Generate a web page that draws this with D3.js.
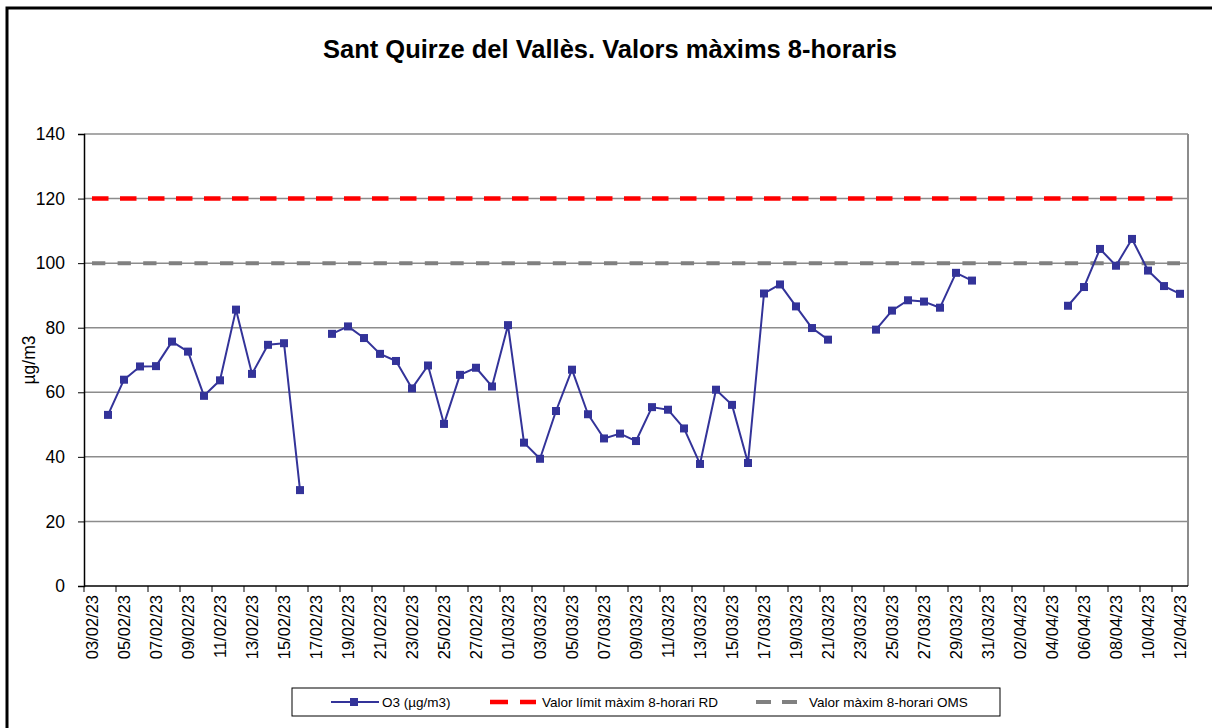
<!DOCTYPE html>
<html>
<head>
<meta charset="utf-8">
<script src="https://cdn.jsdelivr.net/npm/d3@7"></script>
<style>
  body { margin: 0; background: #fff; }
  svg { display: block; font-family: Arial, "Liberation Sans", sans-serif; }
</style>
</head>
<body>
<svg id="chart" width="1212" height="728"></svg>
<script>
var dates = [
  "03/02/23","04/02/23","05/02/23","06/02/23","07/02/23","08/02/23","09/02/23","10/02/23",
  "11/02/23","12/02/23","13/02/23","14/02/23","15/02/23","16/02/23","17/02/23","18/02/23",
  "19/02/23","20/02/23","21/02/23","22/02/23","23/02/23","24/02/23","25/02/23","26/02/23",
  "27/02/23","28/02/23","01/03/23","02/03/23","03/03/23","04/03/23","05/03/23","06/03/23",
  "07/03/23","08/03/23","09/03/23","10/03/23","11/03/23","12/03/23","13/03/23","14/03/23",
  "15/03/23","16/03/23","17/03/23","18/03/23","19/03/23","20/03/23","21/03/23","22/03/23",
  "23/03/23","24/03/23","25/03/23","26/03/23","27/03/23","28/03/23","29/03/23","30/03/23",
  "31/03/23","01/04/23","02/04/23","03/04/23","04/04/23","05/04/23","06/04/23","07/04/23",
  "08/04/23","09/04/23","10/04/23","11/04/23","12/04/23"
];

var o3 = [
  null, 53.0, 63.9, 68.0, 68.1, 75.7, 72.6, 58.9,
  63.7, 85.6, 65.7, 74.7, 75.2, 29.7, null, 78.1,
  80.4, 76.8, 71.9, 69.7, 61.2, 68.3, 50.2, 65.4,
  67.6, 61.8, 80.8, 44.4, 39.4, 54.2, 67.0, 53.2,
  45.7, 47.2, 44.9, 55.4, 54.6, 48.8, 37.8, 60.8,
  56.1, 38.1, 90.6, 93.4, 86.6, 79.9, 76.3, null,
  null, 79.4, 85.3, 88.5, 88.1, 86.2, 97.0, 94.6,
  null, null, null, null, null, 86.8, 92.6, 104.4,
  99.2, 107.5, 97.7, 92.9, 90.5
];

var limitRD = dates.map(function() { return 120; });
var limitOMS = dates.map(function() { return 100; });

var yTicks = [0, 20, 40, 60, 80, 100, 120, 140];

var seriesNames = ["O3 (\u00b5g/m3)", "Valor l\u00edmit m\u00e0xim 8-horari RD", "Valor m\u00e0xim 8-horari OMS"];

var svg = d3.select("#chart"),
  margin = {top: 134, right: 24, bottom: 142, left: 84},
  width = +svg.attr("width") - margin.left - margin.right,
  height = +svg.attr("height") - margin.top - margin.bottom;

// outer chart border
svg.append("rect")
  .attr("x", 7).attr("y", 8)
  .attr("width", 1220).attr("height", 740)
  .attr("fill", "none")
  .attr("stroke", "#000")
  .attr("stroke-width", 3);

svg.append("text")
  .attr("x", 610).attr("y", 58)
  .attr("text-anchor", "middle")
  .attr("font-size", "25.5px")
  .attr("font-weight", "bold")
  .text("Sant Quirze del Vall\u00e8s. Valors m\u00e0xims 8-horaris");

var g = svg.append("g").attr("transform", "translate(" + margin.left + "," + margin.top + ")");

var x = d3.scaleBand()
  .domain(dates)
  .range([0, width])
  .padding(0);

var y = d3.scaleLinear()
  .domain([0, 140])
  .range([height, 0]);

var cx = function(i) { return x(dates[i]) + x.bandwidth() / 2; };

// gridlines
g.append("g")
  .selectAll("line")
  .data(yTicks.filter(function(d) { return d > 0; }))
  .enter().append("line")
    .attr("x1", 0).attr("x2", width)
    .attr("y1", function(d) { return y(d); })
    .attr("y2", function(d) { return y(d); })
    .attr("stroke", "#8c8c8c")
    .attr("stroke-width", 1.5);

// plot frame right
g.append("line")
  .attr("x1", width).attr("x2", width)
  .attr("y1", 0).attr("y2", height)
  .attr("stroke", "#8c8c8c")
  .attr("stroke-width", 2);

// y axis
var yAxis = g.append("g")
  .call(d3.axisLeft(y).tickValues(yTicks).tickSize(6).tickPadding(13));
yAxis.select(".domain").attr("stroke", "#000").attr("stroke-width", 1.5);
yAxis.selectAll(".tick line").attr("stroke", "#000");
yAxis.selectAll(".tick text").attr("font-size", "17.5px").attr("fill", "#000")
  .attr("font-family", "Arial, 'Liberation Sans', sans-serif");

// x axis: ticks every two categories at boundaries, labels at centres
var xa = g.append("g").attr("transform", "translate(0," + height + ")");
xa.append("line")
  .attr("x1", 0).attr("x2", width)
  .attr("stroke", "#000").attr("stroke-width", 1.5);
xa.selectAll(".xt")
  .data(dates.filter(function(d, i) { return i % 2 === 0; }))
  .enter().append("line")
    .attr("class", "xt")
    .attr("x1", function(d) { return x(d); })
    .attr("x2", function(d) { return x(d); })
    .attr("y1", 0).attr("y2", 6)
    .attr("stroke", "#000");
xa.selectAll(".xl")
  .data(dates.filter(function(d, i) { return i % 2 === 0; }))
  .enter().append("text")
    .attr("class", "xl")
    .attr("transform", function(d) {
      return "translate(" + (x(d) + x.bandwidth() / 2 + 6) + ",9) rotate(-90)";
    })
    .attr("text-anchor", "end")
    .attr("font-size", "16.5px")
    .text(function(d) { return d; });

// y axis title
svg.append("text")
  .attr("transform", "translate(35,360) rotate(-90)")
  .attr("text-anchor", "middle")
  .attr("font-size", "17.5px")
  .text("\u00b5g/m3");

// limit lines
var limitLine = function(arr) {
  return d3.line()
    .x(function(d, i) { return cx(i); })
    .y(function(d) { return y(d); })(arr);
};

g.append("path")
  .attr("d", limitLine(limitOMS))
  .attr("fill", "none")
  .attr("stroke", "#808080")
  .attr("stroke-width", 4)
  .attr("stroke-dasharray", "13.3,12.3");

g.append("path")
  .attr("d", limitLine(limitRD))
  .attr("fill", "none")
  .attr("stroke", "#ff0000")
  .attr("stroke-width", 4.5)
  .attr("stroke-dasharray", "16.5,11.5");

// O3 series
var line = d3.line()
  .defined(function(d) { return d != null; })
  .x(function(d, i) { return cx(i); })
  .y(function(d) { return y(d); });

g.append("path")
  .datum(o3)
  .attr("fill", "none")
  .attr("stroke", "#333399")
  .attr("stroke-width", 2)
  .attr("stroke-linejoin", "round")
  .attr("d", line);

var pts = o3.map(function(v, i) { return {v: v, i: i}; })
  .filter(function(d) { return d.v != null; });

g.selectAll(".mk")
  .data(pts)
  .enter().append("rect")
    .attr("class", "mk")
    .attr("x", function(d) { return cx(d.i) - 4; })
    .attr("y", function(d) { return y(d.v) - 4; })
    .attr("width", 8).attr("height", 8)
    .attr("fill", "#333399");

// legend
var lg = svg.append("g");
lg.append("rect")
  .attr("x", 292).attr("y", 688)
  .attr("width", 708).attr("height", 28)
  .attr("fill", "#fff")
  .attr("stroke", "#000")
  .attr("stroke-width", 1);

var ly = 702;
lg.append("line")
  .attr("x1", 331).attr("x2", 379).attr("y1", ly).attr("y2", ly)
  .attr("stroke", "#333399").attr("stroke-width", 2);
lg.append("rect")
  .attr("x", 350).attr("y", ly - 4).attr("width", 8).attr("height", 8)
  .attr("fill", "#333399");
lg.append("line")
  .attr("x1", 490).attr("x2", 536).attr("y1", ly).attr("y2", ly)
  .attr("stroke", "#ff0000").attr("stroke-width", 4.5)
  .attr("stroke-dasharray", "18,12");
lg.append("line")
  .attr("x1", 756).attr("x2", 797).attr("y1", ly).attr("y2", ly)
  .attr("stroke", "#808080").attr("stroke-width", 4)
  .attr("stroke-dasharray", "15,11");

var lx = [382, 542, 809];
lg.selectAll(".lt")
  .data(seriesNames)
  .enter().append("text")
    .attr("class", "lt")
    .attr("x", function(d, i) { return lx[i]; })
    .attr("y", ly + 5)
    .attr("font-size", "13.5px")
    .text(function(d) { return d; });
</script>
</body>
</html>
